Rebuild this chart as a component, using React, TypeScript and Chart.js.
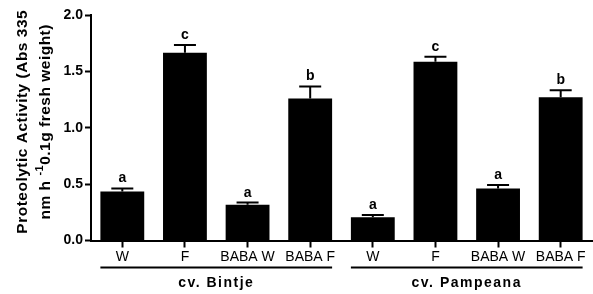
import React, { useEffect, useRef } from "react";
import { Chart, registerables } from "chart.js";

Chart.register(...registerables);

const categories = ["W", "F", "BABA W", "BABA F", "W", "F", "BABA W", "BABA F"];
const values = [0.435, 1.665, 0.317, 1.259, 0.207, 1.585, 0.462, 1.271];
const errors = [0.027, 0.068, 0.02, 0.107, 0.02, 0.045, 0.03, 0.062];
const letters = ["a", "c", "a", "b", "a", "c", "a", "b"];
const groupNames = ["cv. Bintje", "cv. Pampeana"];
const groupSize = 4;
const yTicks = [0, 0.5, 1.0, 1.5, 2.0];

const FONT = "'Liberation Sans', Arial, sans-serif";

const annotate = {
  id: "annotate",
  afterDatasetsDraw(chart: any) {
    const ctx = chart.ctx;
    const meta = chart.getDatasetMeta(0);
    const y = chart.scales.y;
    const area = chart.chartArea;
    ctx.save();
    ctx.strokeStyle = "#000";
    ctx.fillStyle = "#000";
    ctx.lineWidth = 2;
    meta.data.forEach((bar: any, i: number) => {
      const top = y.getPixelForValue(values[i] + errors[i]);
      ctx.beginPath();
      ctx.moveTo(bar.x, bar.y);
      ctx.lineTo(bar.x, top);
      ctx.moveTo(bar.x - 11, top);
      ctx.lineTo(bar.x + 11, top);
      ctx.stroke();
      ctx.font = "bold 14px " + FONT;
      ctx.textAlign = "center";
      ctx.textBaseline = "alphabetic";
      ctx.fillText(letters[i], bar.x, top - 6);
    });
    // group lines and names
    groupNames.forEach((name, g) => {
      const first = meta.data[g * groupSize];
      const last = meta.data[g * groupSize + groupSize - 1];
      const x0 = first.x - first.width / 2;
      const x1 = last.x + last.width / 2;
      const ly = area.bottom + 27;
      ctx.beginPath();
      ctx.lineWidth = 2;
      ctx.moveTo(x0, ly);
      ctx.lineTo(x1, ly);
      ctx.stroke();
      ctx.font = "bold 14px " + FONT;
      (ctx as any).letterSpacing = "1.5px";
      ctx.textAlign = "center";
      ctx.textBaseline = "middle";
      ctx.fillText(name, (x0 + x1) / 2, area.bottom + 43);
      (ctx as any).letterSpacing = "0px";
    });
    // y title
    const cy = (area.top + area.bottom) / 2 - 6;
    ctx.save();
    ctx.translate(23, cy);
    ctx.rotate(-Math.PI / 2);
    ctx.font = "bold 15.5px " + FONT;
    (ctx as any).letterSpacing = "0.5px";
    ctx.textAlign = "center";
    ctx.textBaseline = "middle";
    ctx.fillText("Proteolytic Activity (Abs 335", 0, 0);
    ctx.restore();

    ctx.save();
    ctx.translate(46, cy);
    ctx.rotate(-Math.PI / 2);
    (ctx as any).letterSpacing = "0.5px";
    ctx.textAlign = "left";
    ctx.textBaseline = "middle";
    const p1 = "nm h ";
    const sup = "-1";
    const p2 = "0.1g fresh weight)";
    ctx.font = "bold 15.5px " + FONT;
    const w1 = ctx.measureText(p1).width;
    const w3 = ctx.measureText(p2).width;
    ctx.font = "bold 11px " + FONT;
    const w2 = ctx.measureText(sup).width;
    const start = -(w1 + w2 + w3) / 2;
    ctx.font = "bold 15.5px " + FONT;
    ctx.fillText(p1, start, 0);
    ctx.font = "bold 11px " + FONT;
    ctx.fillText(sup, start + w1, -6);
    ctx.font = "bold 15.5px " + FONT;
    ctx.fillText(p2, start + w1 + w2, 0);
    ctx.restore();

    ctx.restore();
  },
};

export default function App() {
  const ref = useRef<HTMLCanvasElement | null>(null);
  useEffect(() => {
    if (!ref.current) return;
    const chart = new Chart(ref.current, {
      type: "bar",
      data: {
        labels: categories,
        datasets: [
          {
            data: values,
            backgroundColor: "#000",
            borderWidth: 0,
            barPercentage: 0.7,
            categoryPercentage: 1.0,
          },
        ],
      },
      options: {
        responsive: false,
        animation: false,
        layout: { padding: { left: 0, top: 15, right: 1, bottom: 0 } },
        plugins: { legend: { display: false }, tooltip: { enabled: false } },
        scales: {
          x: {
            offset: true,
            grid: {
              offset: false,
              drawOnChartArea: false,
              drawTicks: true,
              tickLength: 7,
              tickWidth: 2,
              color: "#000",
            },
            border: { display: true, color: "#000", width: 2 },
            ticks: {
              color: "#000",
              font: { family: FONT, size: 14 },
              padding: 1,
              maxRotation: 0,
              autoSkip: false,
            },
            afterFit: (s: any) => {
              s.height = 53.5;
            },
          },
          y: {
            min: 0,
            max: 2,
            afterBuildTicks: (s: any) => {
              s.ticks = yTicks.map((v) => ({ value: v }));
            },
            grid: {
              drawOnChartArea: false,
              drawTicks: true,
              tickLength: 6,
              tickWidth: 2,
              color: "#000",
            },
            border: { display: true, color: "#000", width: 2 },
            ticks: {
              color: "#000",
              font: { family: FONT, size: 14, weight: "bold" },
              padding: 2,
              callback: (v: any) => Number(v).toFixed(1),
            },
            afterFit: (s: any) => {
              s.width = 91;
            },
          },
        },
      },
      plugins: [annotate],
    });
    return () => chart.destroy();
  }, []);
  return (
    <div style={{ position: "absolute", left: 0, top: 0, width: 593, height: 294 }}>
      <canvas ref={ref} width={593} height={294} style={{ display: "block" }} />
    </div>
  );
}
